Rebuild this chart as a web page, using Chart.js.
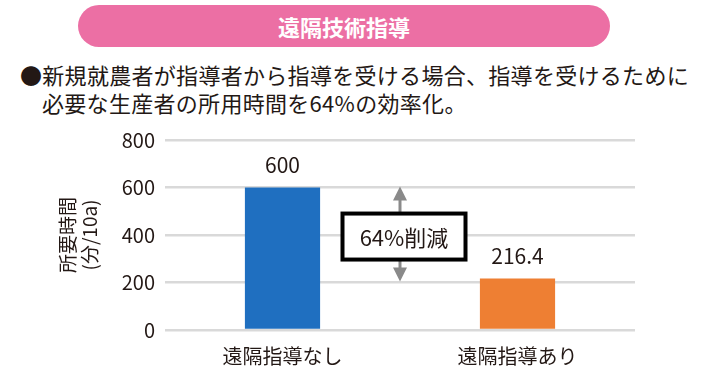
<!DOCTYPE html>
<html lang="ja">
<head>
<meta charset="UTF-8">
<title>遠隔技術指導</title>
<script src="https://cdn.jsdelivr.net/npm/chart.js"></script>
<style>
    body {
        margin: 0;
        width: 715px;
        height: 390px;
        background: #fff;
        font-family: 'Noto Sans CJK JP', sans-serif;
        position: relative;
        overflow: hidden;
    }
    .pill {
        position: absolute;
        left: 78px;
        top: 5px;
        width: 532px;
        height: 42px;
        border-radius: 21px;
        background: #ec6fa4;
        color: #fff;
        font-weight: bold;
        font-size: 22px;
        line-height: 42px;
        text-align: center;
    }
    .note {
        position: absolute;
        left: 20px;
        top: 60px;
        font-size: 22px;
        line-height: 28px;
        color: #231815;
        letter-spacing: 0.3px;
    }
    .note .l2 { padding-left: 22px; }
    #chartBox {
        position: absolute;
        left: 0;
        top: 0;
        width: 715px;
        height: 390px;
    }
</style>
</head>
<body>
<div class="pill">遠隔技術指導</div>
<div class="note">
    <div>●新規就農者が指導者から指導を受ける場合、指導を受けるために</div>
    <div class="l2">必要な生産者の所用時間を64%の効率化。</div>
</div>
<div id="chartBox"><canvas id="chart"></canvas></div>

<script>
    const categories = ['遠隔指導なし', '遠隔指導あり'];
    const hours = [600, 216.4];
    const valueLabels = ['600', '216.4'];
    const barColors = ['#1f6fc0', '#ee7f33'];
    const yTicks = [0, 200, 400, 600, 800];
    const yTitle = ['所要時間', '(分/10a)'];
    const reductionText = '64%削減';

    const textColor = '#231815';
    const fontFamily = "'Noto Sans CJK JP', sans-serif";

    // values above bars
    const valueLabelPlugin = {
        id: 'valueLabels',
        afterDatasetsDraw(chart) {
            const ctx = chart.ctx;
            const meta = chart.getDatasetMeta(0);
            ctx.save();
            ctx.fillStyle = textColor;
            ctx.font = '21px ' + fontFamily;
            ctx.textAlign = 'center';
            ctx.textBaseline = 'bottom';
            meta.data.forEach((bar, i) => {
                ctx.fillText(valueLabels[i], bar.x, bar.y - 12);
            });
            ctx.restore();
        }
    };

    // double arrow and "64%削減" box
    const reductionPlugin = {
        id: 'reduction',
        afterDatasetsDraw(chart) {
            const ctx = chart.ctx;
            const y = chart.scales.y;
            const x = (chart.chartArea.left + chart.chartArea.right) / 2;
            const yTop = y.getPixelForValue(hours[0]);
            const yBot = y.getPixelForValue(hours[1]);
            ctx.save();
            ctx.strokeStyle = '#8a8a8a';
            ctx.fillStyle = '#8a8a8a';
            ctx.lineWidth = 3;
            ctx.beginPath();
            ctx.moveTo(x, yTop + 8);
            ctx.lineTo(x, yBot - 8);
            ctx.stroke();
            ctx.beginPath();
            ctx.moveTo(x, yTop - 1);
            ctx.lineTo(x - 7, yTop + 13);
            ctx.lineTo(x + 7, yTop + 13);
            ctx.closePath();
            ctx.fill();
            ctx.beginPath();
            ctx.moveTo(x, yBot + 3);
            ctx.lineTo(x - 7, yBot - 11);
            ctx.lineTo(x + 7, yBot - 11);
            ctx.closePath();
            ctx.fill();

            const midY = (yTop + yBot) / 2 + 3.5;
            const cx = x + 4;
            const w = 123, h = 46;
            ctx.fillStyle = '#fff';
            ctx.fillRect(cx - w / 2, midY - h / 2, w, h);
            ctx.strokeStyle = '#000';
            ctx.lineWidth = 4;
            ctx.strokeRect(cx - w / 2, midY - h / 2, w, h);
            ctx.fillStyle = textColor;
            ctx.font = '22px ' + fontFamily;
            ctx.textAlign = 'center';
            ctx.textBaseline = 'middle';
            ctx.fillText(reductionText, cx, midY + 1);
            ctx.restore();
        }
    };

    new Chart(document.getElementById('chart'), {
        type: 'bar',
        data: {
            labels: categories,
            datasets: [{
                data: hours,
                backgroundColor: barColors,
                barPercentage: 0.64,
                categoryPercentage: 0.5
            }]
        },
        options: {
            responsive: true,
            maintainAspectRatio: false,
            animation: false,
            layout: { padding: { top: 140, right: 80, bottom: 0, left: 56 } },
            plugins: {
                legend: { display: false },
                tooltip: { enabled: false }
            },
            scales: {
                x: {
                    grid: { display: false },
                    border: { display: false },
                    ticks: {
                        color: textColor,
                        font: { size: 20, family: fontFamily },
                        padding: 6
                    },
                    afterFit(scale) { scale.height = 60; }
                },
                y: {
                    min: 0,
                    max: 800,
                    afterBuildTicks(scale) {
                        scale.ticks = yTicks.map(v => ({ value: v }));
                    },
                    grid: { color: '#d9d9d9', lineWidth: 2.5, drawTicks: false },
                    border: { display: false },
                    ticks: {
                        color: textColor,
                        font: { size: 20, family: fontFamily },
                        padding: 10
                    },
                    title: {
                        display: true,
                        text: yTitle,
                        color: textColor,
                        padding: 0,
                        font: { size: 19, family: fontFamily, lineHeight: 1.2 }
                    },
                    afterFit(scale) { scale.width = 109; }
                }
            }
        },
        plugins: [valueLabelPlugin, reductionPlugin]
    });
</script>
</body>
</html>
